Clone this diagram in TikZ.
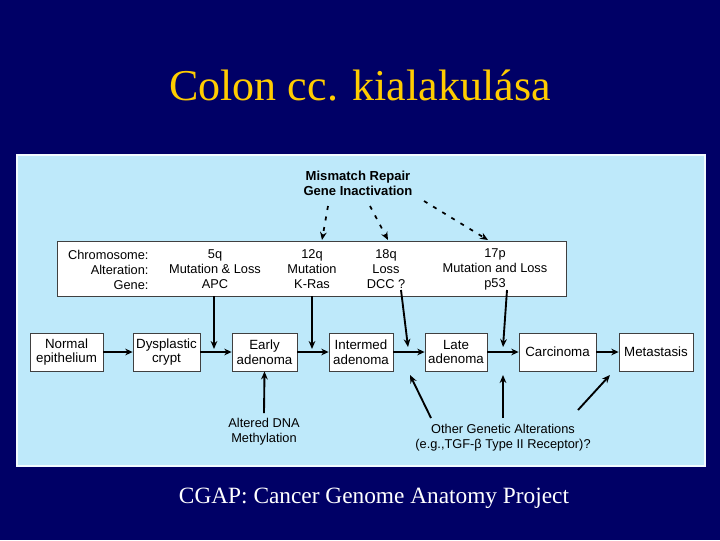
\documentclass[tikz,border=0pt]{standalone}
\usepackage{fontspec}
\setmainfont{Liberation Serif}
\newfontfamily\diagfont{Liberation Sans}
\usetikzlibrary{arrows.meta}

\definecolor{slidebg}{RGB}{0,0,102}
\definecolor{panelblue}{RGB}{190,233,250}
\definecolor{titleyellow}{RGB}{255,204,0}

\tikzset{every picture/.style={line width=0.75pt},
	stagebox/.style={draw=black!75, fill=white, line width=0.6pt, minimum height=28.5pt, inner sep=1pt, align=center, font=\diagfont\fontsize{10}{11}\selectfont},
	tabletext/.style={inner sep=0.75pt, align=center, font=\diagfont\fontsize{9.6}{11.25}\selectfont},
	flow/.style={-{Stealth[length=5.5pt,width=5pt]}, line width=1.9pt},
	hit/.style={-{Stealth[length=6pt,width=5pt]}, line width=1.4pt},
	mmrdash/.style={-{Stealth[length=6pt,width=5pt]}, line width=1.3pt, dash pattern={on 3pt off 5pt}}
}

\begin{document}
\begin{tikzpicture}[x=0.75pt,y=0.75pt,yscale=-1,xscale=1]
	\useasboundingbox (0,0) rectangle (720,540);

	%Shape: Rectangle [slide]
	\fill [slidebg] (0,0) rectangle (720,540);
	%Shape: Rectangle [panel]
	\draw [draw=white!80!panelblue, fill=panelblue, line width=1.2pt] (17,155) rectangle (705,466);

	% Text Node
	\draw (360,86) node [inner sep=0.75pt, text=titleyellow, font=\fontsize{33}{36}\selectfont] (title) {Colon cc. kialakulása};
	% Text Node
	\draw (374,498) node [inner sep=0.75pt, text=white, font=\fontsize{17.5}{20}\selectfont] (cgap) {CGAP: Cancer Genome Anatomy Project};

	% Text Node
	\draw (358,183) node [inner sep=0.75pt, align=center, font=\diagfont\bfseries\fontsize{9.8}{11.25}\selectfont] (mmr) {Mismatch Repair\\Gene Inactivation};

	%Shape: Rectangle [gene table]
	\node [draw=black!75, fill=white, line width=0.6pt, minimum width=381.75pt, minimum height=41.25pt] (genes) at (311.5,268.5) {};
	% Text Node
	\node [tabletext, align=right, anchor=east] (rowlab) at (150,269.5) {Chromosome:\\Alteration:\\Gene:};
	\node [tabletext] (c5q) at (215,269.5) {5q\\Mutation \& Loss\\APC};
	\node [tabletext] (c12q) at (312,269.5) {12q\\Mutation\\K-Ras};
	\node [tabletext] (c18q) at (386,269.5) {18q\\Loss\\DCC ?};
	\node [tabletext] (c17p) at (495,269.5) {17p\\Mutation and Loss\\p53};

	%Shape: Rectangle [stages]
	\node [stagebox, minimum width=54.75pt] (normal) at (66.5,352) {Normal\\epithelium};
	\node [stagebox, minimum width=50.25pt] (dysp) at (166.5,352) {Dysplastic\\crypt};
	\node [stagebox, minimum width=48.75pt] (early) at (264.5,352) {Early\\adenoma};
	\node [stagebox, minimum width=48pt] (inter) at (361,352) {Intermed\\adenoma};
	\node [stagebox, minimum width=46.5pt] (late) at (456,352) {Late\\adenoma};
	\node [stagebox, minimum width=57.75pt] (carc) at (557.5,352) {Carcinoma};
	\node [stagebox, minimum width=55.5pt] (meta) at (656,352) {Metastasis};

	% Text Node
	\draw (264,432) node [tabletext] (dna) {Altered DNA\\Methylation};
	% Text Node
	\draw (503,438) node [tabletext] (oga) {Other Genetic Alterations\\(e.g.,TGF-β Type II Receptor)?};

	%Straight Lines [progression]
	\draw [flow] (normal) -- (dysp);
	\draw [flow] (dysp) -- (early);
	\draw [flow] (early) -- (inter);
	\draw [flow] (inter) -- (late);
	\draw [flow] (late) -- (carc);
	\draw [flow] (carc) -- (meta);

	%Straight Lines [mismatch repair]
	\coordinate (m12) at (328,206);
	\coordinate (m18) at (370,206);
	\coordinate (m17) at (424,201);
	\draw [mmrdash] (m12) -- (322,240);
	\draw [mmrdash] (m18) -- (388,240);
	\draw [mmrdash] (m17) -- (488,240);

	%Straight Lines [genes into path]
	\coordinate (t5q) at (214,296);
	\coordinate (j5q) at (214,349);
	\coordinate (t12q) at (312,296);
	\coordinate (j12q) at (312,349);
	\coordinate (t18q) at (401,290);
	\coordinate (j18q) at (408,347);
	\coordinate (t17p) at (507,290);
	\coordinate (j17p) at (503,347);
	\draw [hit] (t5q) -- (j5q);
	\draw [hit] (t12q) -- (j12q);
	\draw [hit] (t18q) -- (j18q);
	\draw [hit] (t17p) -- (j17p);

	%Straight Lines [from below]
	\coordinate (dnatop) at (264,413);
	\draw [hit] (dnatop) -- (early.south);
	\coordinate (o1) at (431,418);
	\coordinate (o2) at (503,418);
	\coordinate (o3) at (578,410);
	\draw [hit] (o1) -- (410,375);
	\draw [hit] (o2) -- (503,375);
	\draw [hit] (o3) -- (610,375);
\end{tikzpicture}
\end{document}
